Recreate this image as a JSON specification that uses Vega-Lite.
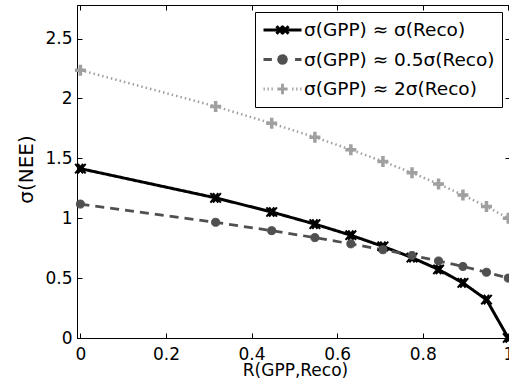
{
  "$schema": "https://vega.github.io/schema/vega-lite/v6.json",
  "width": 433,
  "height": 333,
  "autosize": {"type": "none"},
  "padding": {"left": 77, "top": 5, "right": 0, "bottom": 54},
  "background": "white",
  "config": {
    "view": {"stroke": "black", "strokeWidth": 1},
    "axis": {
      "labelFont": "DejaVu Sans", "labelFontSize": 17, "labelColor": "black",
      "titleFont": "DejaVu Sans", "titleFontSize": 17, "titleFontWeight": "normal", "titleColor": "black",
      "tickColor": "black", "domainColor": "black", "grid": false,
      "labelFlush": false, "labelOverlap": false
    }
  },
  "data": {
    "values": [
      {"R": 0, "nee": 1.414, "series": "σ(GPP) ≈ σ(Reco)"},
      {"R": 0.316, "nee": 1.170, "series": "σ(GPP) ≈ σ(Reco)"},
      {"R": 0.447, "nee": 1.052, "series": "σ(GPP) ≈ σ(Reco)"},
      {"R": 0.548, "nee": 0.951, "series": "σ(GPP) ≈ σ(Reco)"},
      {"R": 0.632, "nee": 0.858, "series": "σ(GPP) ≈ σ(Reco)"},
      {"R": 0.707, "nee": 0.765, "series": "σ(GPP) ≈ σ(Reco)"},
      {"R": 0.775, "nee": 0.671, "series": "σ(GPP) ≈ σ(Reco)"},
      {"R": 0.837, "nee": 0.572, "series": "σ(GPP) ≈ σ(Reco)"},
      {"R": 0.894, "nee": 0.460, "series": "σ(GPP) ≈ σ(Reco)"},
      {"R": 0.949, "nee": 0.320, "series": "σ(GPP) ≈ σ(Reco)"},
      {"R": 1, "nee": 0, "series": "σ(GPP) ≈ σ(Reco)"},
      {"R": 0, "nee": 1.118, "series": "σ(GPP) ≈ 0.5σ(Reco)"},
      {"R": 0.316, "nee": 0.966, "series": "σ(GPP) ≈ 0.5σ(Reco)"},
      {"R": 0.447, "nee": 0.896, "series": "σ(GPP) ≈ 0.5σ(Reco)"},
      {"R": 0.548, "nee": 0.838, "series": "σ(GPP) ≈ 0.5σ(Reco)"},
      {"R": 0.632, "nee": 0.786, "series": "σ(GPP) ≈ 0.5σ(Reco)"},
      {"R": 0.707, "nee": 0.737, "series": "σ(GPP) ≈ 0.5σ(Reco)"},
      {"R": 0.775, "nee": 0.689, "series": "σ(GPP) ≈ 0.5σ(Reco)"},
      {"R": 0.837, "nee": 0.643, "series": "σ(GPP) ≈ 0.5σ(Reco)"},
      {"R": 0.894, "nee": 0.597, "series": "σ(GPP) ≈ 0.5σ(Reco)"},
      {"R": 0.949, "nee": 0.549, "series": "σ(GPP) ≈ 0.5σ(Reco)"},
      {"R": 1, "nee": 0.5, "series": "σ(GPP) ≈ 0.5σ(Reco)"},
      {"R": 0, "nee": 2.236, "series": "σ(GPP) ≈ 2σ(Reco)"},
      {"R": 0.316, "nee": 1.933, "series": "σ(GPP) ≈ 2σ(Reco)"},
      {"R": 0.447, "nee": 1.792, "series": "σ(GPP) ≈ 2σ(Reco)"},
      {"R": 0.548, "nee": 1.676, "series": "σ(GPP) ≈ 2σ(Reco)"},
      {"R": 0.632, "nee": 1.572, "series": "σ(GPP) ≈ 2σ(Reco)"},
      {"R": 0.707, "nee": 1.474, "series": "σ(GPP) ≈ 2σ(Reco)"},
      {"R": 0.775, "nee": 1.379, "series": "σ(GPP) ≈ 2σ(Reco)"},
      {"R": 0.837, "nee": 1.286, "series": "σ(GPP) ≈ 2σ(Reco)"},
      {"R": 0.894, "nee": 1.193, "series": "σ(GPP) ≈ 2σ(Reco)"},
      {"R": 0.949, "nee": 1.098, "series": "σ(GPP) ≈ 2σ(Reco)"},
      {"R": 1, "nee": 1.0, "series": "σ(GPP) ≈ 2σ(Reco)"}
    ]
  },
  "resolve": {"axis": {"x": "independent", "y": "independent"}},
  "layer": [
    {
      "mark": {"type": "line", "clip": false},
      "encoding": {
        "x": {"field": "R", "type": "quantitative",
          "scale": {"domain": [-0.008, 1.004], "nice": false, "zero": false},
          "axis": {"orient": "bottom", "values": [0, 0.2, 0.4, 0.6, 0.8, 1], "format": "~g",
            "title": "R(GPP,Reco)", "tickSize": -5, "labelPadding": 13,
            "titleX": 218, "titleY": 37, "titleBaseline": "alphabetic", "titleAlign": "center"}},
        "y": {"field": "nee", "type": "quantitative",
          "scale": {"domain": [0, 2.78], "nice": false, "zero": false},
          "axis": {"orient": "left", "values": [0, 0.5, 1, 1.5, 2, 2.5], "format": "~g",
            "title": "σ(NEE)", "tickSize": -5, "labelPadding": 10, "titleFontSize": 20,
            "titleAngle": 270, "titleX": -45, "titleY": 164, "titleBaseline": "alphabetic", "titleAlign": "center"}},
        "color": {"field": "series", "type": "nominal",
          "scale": {"domain": ["σ(GPP) ≈ σ(Reco)", "σ(GPP) ≈ 0.5σ(Reco)", "σ(GPP) ≈ 2σ(Reco)"],
                    "range": ["#000000", "#505050", "#a0a0a0"]},
          "legend": {
            "orient": "none", "legendX": 178, "legendY": 7, "title": null,
            "symbolSize": 1444, "symbolStrokeWidth": 3, "symbolOffset": 0, "clipHeight": 22,
            "labelFont": "DejaVu Sans", "labelFontSize": 18.5, "labelColor": "black", "labelLimit": 0,
            "padding": 7, "rowPadding": 7.5, "labelOffset": 1,
            "strokeColor": "black", "fillColor": "white",
            "encode": {"symbols": {"update": {
              "shape": {"signal": "datum.index === 0 ? 'M-1,0H1M-0.32,-0.2L0.08,0.2M-0.32,0.2L0.08,-0.2M-0.08,-0.2L0.32,0.2M-0.08,0.2L0.32,-0.2' : datum.index === 1 ? 'M-1,0H-0.56M0.66,0H1M0.2,0L0.173,0.1L0.1,0.173L0,0.2L-0.1,0.173L-0.173,0.1L-0.2,0L-0.173,-0.1L-0.1,-0.173L0,-0.2L0.1,-0.173L0.173,-0.1Z' : 'M-1,0H-0.93M-0.79,0H-0.72M-0.58,0H-0.51M0.51,0H0.58M0.72,0H0.79M0.93,0H1M-0.27,0H0.27M0,-0.27V0.27'"},
              "fill": {"signal": "datum.index === 1 ? '#505050' : 'transparent'"},
              "strokeDash": {"value": [1, 0]}
            }}}
          }},
        "strokeDash": {"field": "series", "type": "nominal",
          "scale": {"domain": ["σ(GPP) ≈ 2σ(Reco)", "σ(GPP) ≈ 0.5σ(Reco)", "σ(GPP) ≈ σ(Reco)"],
                    "range": [[1.5, 3], [9, 6], [1, 0]]},
          "legend": null},
        "strokeWidth": {"field": "series", "type": "nominal",
          "scale": {"domain": ["σ(GPP) ≈ 2σ(Reco)", "σ(GPP) ≈ 0.5σ(Reco)", "σ(GPP) ≈ σ(Reco)"],
                    "range": [2.5, 3, 3]},
          "legend": null}
      }
    },
    {
      "transform": [{"filter": {"field": "series", "equal": "σ(GPP) ≈ σ(Reco)"}}],
      "mark": {"type": "point", "filled": false, "opacity": 1, "clip": false,
               "shape": "M-1,-0.9L0.5,0.9M-1,0.9L0.5,-0.9M-0.5,-0.9L1,0.9M-0.5,0.9L1,-0.9",
               "size": 110, "stroke": "#000000", "strokeWidth": 2},
      "encoding": {
        "x": {"field": "R", "type": "quantitative",
          "axis": {"orient": "top", "values": [0, 0.2, 0.4, 0.6, 0.8, 1], "labels": false, "title": null, "tickSize": -5, "domain": false}},
        "y": {"field": "nee", "type": "quantitative",
          "axis": {"orient": "right", "values": [0, 0.5, 1, 1.5, 2, 2.5], "labels": false, "title": null, "tickSize": -5, "domain": false}}
      }
    },
    {
      "transform": [{"filter": {"field": "series", "equal": "σ(GPP) ≈ 0.5σ(Reco)"}}],
      "mark": {"type": "point", "filled": true, "opacity": 1, "clip": false,
               "shape": "circle", "size": 65, "fill": "#505050", "stroke": "#505050", "strokeWidth": 1},
      "encoding": {
        "x": {"field": "R", "type": "quantitative", "axis": null},
        "y": {"field": "nee", "type": "quantitative", "axis": null}
      }
    },
    {
      "transform": [{"filter": {"field": "series", "equal": "σ(GPP) ≈ 2σ(Reco)"}}],
      "mark": {"type": "point", "filled": false, "opacity": 1, "clip": false,
               "shape": "M-1,0H1M0,-1V1", "size": 121, "stroke": "#a0a0a0", "strokeWidth": 3.5},
      "encoding": {
        "x": {"field": "R", "type": "quantitative", "axis": null},
        "y": {"field": "nee", "type": "quantitative", "axis": null}
      }
    }
  ]
}
